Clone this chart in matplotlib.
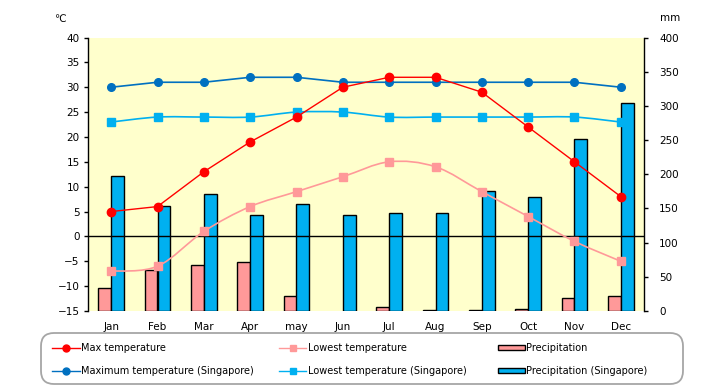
import matplotlib
matplotlib.use("Agg")
import matplotlib.pyplot as plt
from matplotlib.path import Path
from matplotlib.patches import PathPatch, Rectangle, FancyBboxPatch
from matplotlib.lines import Line2D
import numpy as np

months = ["Jan", "Feb", "Mar", "Apr", "may", "Jun", "Jul", "Aug", "Sep", "Oct", "Nov", "Dec"]
max_temp = [5, 6, 13, 19, 24, 30, 32, 32, 29, 22, 15, 8]
low_temp = [-7, -6, 1, 6, 9, 12, 15, 14, 9, 4, -1, -5]
max_sg = [30, 31, 31, 32, 32, 31, 31, 31, 31, 31, 31, 30]
low_sg = [23, 24, 24, 24, 25, 25, 24, 24, 24, 24, 24, 23]
prec = [33, 60, 67, 71, 21.5, 0, 6, 1, 1, 2.5, 18.5, 22]
prec_sg = [198, 153, 171, 140, 157, 140, 144, 143, 176, 166, 252, 304]

C_RED = "#FF0000"
C_PINK = "#FF9999"
C_SGMAX = "#0070C0"
C_SGMIN = "#00B0F0"
C_BAR_SG = "#00B0F0"
C_BG = "#FFFFCC"

plt.rcParams["font.family"] = ["DejaVu Sans"]
fs = 7.5
lfs = 7.0

fig = plt.figure(figsize=(7.2, 3.85), dpi=100)
W, H = 720, 385

def px(xp, yp):
    return (xp / W, 1 - yp / H)

l, r, t, b = 88, 644, 37.5, 311
ax2 = fig.add_axes([l / W, 1 - b / H, (r - l) / W, (b - t) / H])
ax = ax2.twinx()
ax.set_zorder(ax2.get_zorder() + 1)
ax.patch.set_visible(False)
ax2.set_facecolor(C_BG)

x = np.arange(len(months))
bw = 0.28
ax2.bar(x - bw / 2, prec, width=bw, color=C_PINK, edgecolor="black",
        linewidth=[1.0 if v > 0 else 0 for v in prec])
ax2.bar(x + bw / 2, prec_sg, width=bw, color=C_BAR_SG, edgecolor="black",
        linewidth=[1.0 if v > 0 else 0 for v in prec_sg])
ax2.set_ylim(0, 400)
ax2.set_xlim(-0.5, len(months) - 0.5)

ax.yaxis.tick_left()
ax.yaxis.set_label_position("left")
ax2.yaxis.tick_right()
ax2.yaxis.set_label_position("right")

ax.set_ylim(-15, 40)
ax.set_yticks(np.arange(-15, 41, 5))
ax2.set_yticks(np.arange(0, 401, 50))

def smooth(xs, ys, **kw):
    xs = list(xs); ys = list(ys); n = len(xs)
    verts = [(xs[0], ys[0])]
    codes = [Path.MOVETO]
    for i in range(n - 1):
        p0 = i - 1 if i > 0 else i
        p3 = i + 2 if i + 2 < n else i + 1
        c1 = (xs[i] + (xs[i + 1] - xs[p0]) / 6, ys[i] + (ys[i + 1] - ys[p0]) / 6)
        c2 = (xs[i + 1] - (xs[p3] - xs[i]) / 6, ys[i + 1] - (ys[p3] - ys[i]) / 6)
        verts += [c1, c2, (xs[i + 1], ys[i + 1])]
        codes += [Path.CURVE4] * 3
    ax.add_patch(PathPatch(Path(verts, codes), fill=False, **kw))

ax.axhline(0, color="black", linewidth=1.0, zorder=1)

ax.plot(x, max_sg, color=C_SGMAX, linewidth=1.2, marker="o", markersize=5.5, zorder=3)
smooth(x, low_sg, edgecolor=C_SGMIN, linewidth=1.2, zorder=3)
ax.plot(x, low_sg, linestyle="none", color=C_SGMIN, marker="s", markersize=5.5, zorder=4)
ax.plot(x, max_temp, color=C_RED, linewidth=1.0, marker="o", markersize=6, zorder=5)
smooth(x, low_temp, edgecolor=C_PINK, linewidth=1.2, zorder=4)
ax.plot(x, low_temp, linestyle="none", color=C_PINK, marker="s", markersize=5.5, zorder=5)

for a in (ax, ax2):
    a.spines["top"].set_visible(False)
    a.spines["bottom"].set_visible(False)
ax.spines["right"].set_visible(False)
ax2.spines["left"].set_visible(False)
ax.spines["left"].set_linewidth(1.0)
ax2.spines["right"].set_linewidth(1.0)

ax.tick_params(axis="y", direction="out", length=3, width=1, labelsize=fs, pad=3)
ax2.tick_params(axis="y", direction="out", length=3, width=1, labelsize=fs, pad=8)
ax2.set_xticks(x)
ax2.set_xticklabels(months, fontsize=fs)
ax2.tick_params(axis="x", length=0, pad=8)
ax.tick_params(axis="x", length=0, labelbottom=False)

fig.text(*px(60, 19), "\u2103", fontsize=fs, ha="center", va="center")
fig.text(*px(670, 18), "mm", fontsize=fs, ha="center", va="center")

# ---- legend (manual layout) ----
x0, y0 = px(41, 384)
x1, y1 = px(683, 333)
frame = FancyBboxPatch((x0, y0), x1 - x0, y1 - y0, transform=fig.transFigure,
                       boxstyle="round,pad=0,rounding_size=0.018",
                       facecolor="white", edgecolor="#A6A6A6", linewidth=1.3,
                       mutation_aspect=W / H)
fig.add_artist(frame)

row_y = [347.7, 370.7]
line_items = [
    (51.7, 80, 81, row_y[0], C_RED, "o", "Max temperature"),
    (51.7, 80, 81, row_y[1], C_SGMAX, "o", "Maximum temperature (Singapore)"),
    (279, 306, 308, row_y[0], C_PINK, "s", "Lowest temperature"),
    (279, 306, 308, row_y[1], C_SGMIN, "s", "Lowest temperature (Singapore)"),
]
for xa, xb, xt, yy, col, mk, lab in line_items:
    pa = px(xa, yy); pb = px(xb, yy)
    fig.add_artist(Line2D([pa[0], pb[0]], [pa[1], pb[1]], transform=fig.transFigure,
                          color=col, linewidth=1.0))
    pm = px((xa + xb) / 2, yy)
    fig.add_artist(Line2D([pm[0]], [pm[1]], transform=fig.transFigure,
                          color=col, marker=mk, markersize=5, linestyle="none"))
    fig.text(*px(xt, yy), lab, fontsize=lfs, ha="left", va="center")

patch_items = [
    (row_y[0], C_PINK, "Precipitation"),
    (row_y[1], C_BAR_SG, "Precipitation (Singapore)"),
]
for yy, col, lab in patch_items:
    pl = px(498, yy + 2.5)
    pr = px(524.5, yy - 2.5)
    fig.add_artist(Rectangle(pl, pr[0] - pl[0], pr[1] - pl[1], transform=fig.transFigure,
                             facecolor=col, edgecolor="black", linewidth=1.0))
    fig.text(*px(526, yy), lab, fontsize=lfs, ha="left", va="center")

fig.savefig("out.png", dpi=100)
